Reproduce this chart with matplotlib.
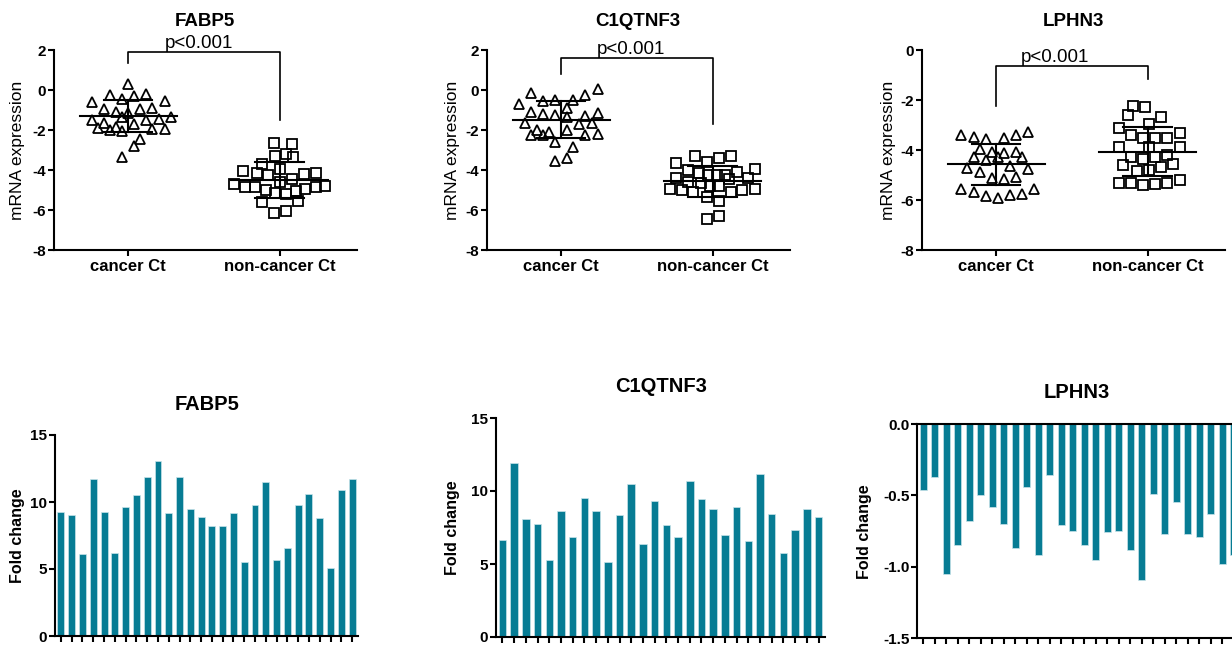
import numpy as np
import matplotlib
matplotlib.use("Agg")
import matplotlib.pyplot as plt

plt.rcParams['font.family'] = ['Liberation Sans', 'DejaVu Sans']
plt.rcParams['axes.unicode_minus'] = False

W, H = 1232, 646

genes = ['FABP5', 'C1QTNF3', 'LPHN3']
groups = ['cancer Ct', 'non-cancer Ct']

# ---- top row: scatter dot plots (value, horizontal spread) ----
fabp5_cancer = [0.30, -0.25, -0.45, -0.29, -0.22, -0.62, -0.54, -0.95, -1.09, -1.13,
                -0.95, -0.89, -1.37, -1.50, -1.67, -1.72, -1.50, -1.43, -1.37, -1.92,
                -2.00, -1.83, -2.03, -1.97, -1.97, -2.47, -2.80, -3.37]
fabp5_cancer_dx = [0, -0.12, -0.04, 0.04, 0.12, -0.24, 0.24, -0.16, -0.08, 0,
                   0.08, 0.16, -0.04, -0.24, -0.16, 0.04, 0.12, 0.20, 0.28, -0.20,
                   -0.12, -0.08, -0.04, 0.16, 0.24, 0.08, 0.04, -0.04]
fabp5_normal = [-2.67, -2.70, -3.28, -3.22, -3.37, -3.72, -3.97, -4.05, -4.17, -4.25,
                -4.58, -4.47, -4.22, -4.17, -4.72, -4.83, -4.87, -5.00, -5.13, -5.20,
                -5.07, -4.93, -4.83, -4.78, -5.58, -5.53, -6.15, -6.03]
fabp5_normal_dx = [-0.04, 0.08, -0.03, 0.04, 0.09, -0.12, 0.0, -0.24, -0.15, -0.08,
                   0.0, 0.08, 0.16, 0.24, -0.30, -0.23, -0.16, -0.09, -0.03, 0.04,
                   0.11, 0.17, 0.24, 0.30, -0.12, 0.12, -0.04, 0.04]

c1q_cancer = [-0.13, 0.05, -0.72, -0.53, -0.50, -0.50, -0.23, -0.92, -1.12, -1.22,
              -1.25, -1.33, -1.30, -1.17, -1.67, -1.72, -1.67, -2.25, -2.00, -2.25,
              -2.08, -2.00, -2.27, -2.20, -2.60, -2.83, -3.53, -3.38]
c1q_cancer_dx = [-0.20, 0.24, -0.28, -0.12, -0.04, 0.08, 0.16, 0.04, -0.20, -0.12,
                 -0.04, 0.04, 0.16, 0.24, -0.24, 0.12, 0.20, -0.20, -0.16, -0.12,
                 -0.08, 0.04, 0.16, 0.24, -0.04, 0.08, -0.04, 0.04]
c1q_normal = [-3.67, -3.28, -3.58, -3.38, -3.30, -4.00, -4.13, -4.25, -4.25, -4.25,
              -4.08, -3.95, -4.42, -4.58, -4.63, -4.80, -4.80, -4.47, -4.38, -4.97,
              -5.00, -5.08, -5.33, -5.08, -5.00, -4.95, -5.55, -6.47, -6.28]
c1q_normal_dx = [-0.24, -0.12, -0.04, 0.04, 0.12, -0.16, -0.09, -0.03, 0.03, 0.08,
                 0.16, 0.28, -0.24, -0.16, -0.08, -0.02, 0.04, 0.11, 0.23, -0.28,
                 -0.20, -0.13, -0.04, 0.12, 0.19, 0.28, 0.04, -0.04, 0.04]

lphn3_cancer = [-3.40, -3.49, -3.57, -3.53, -3.40, -3.29, -3.96, -4.07, -4.11, -4.07,
                -4.29, -4.40, -4.27, -4.29, -4.73, -4.87, -4.63, -4.76, -5.11, -5.16,
                -5.07, -5.56, -5.69, -5.84, -5.91, -5.80, -5.76, -5.56]
lphn3_cancer_dx = [-0.23, -0.15, -0.07, 0.05, 0.13, 0.21, -0.11, -0.03, 0.05, 0.13,
                   -0.15, -0.07, 0.01, 0.17, -0.19, -0.11, 0.09, 0.21, -0.03, 0.05,
                   0.13, -0.23, -0.15, -0.07, 0.01, 0.09, 0.17, 0.25]
lphn3_normal = [-2.24, -2.29, -2.60, -2.69, -2.96, -3.11, -3.33, -3.40, -3.53, -3.53,
                -3.53, -3.89, -3.87, -3.89, -4.27, -4.37, -4.27, -4.20, -4.60, -4.83,
                -4.80, -4.67, -4.57, -5.31, -5.33, -5.40, -5.36, -5.31, -5.20]
lphn3_normal_dx = [-0.10, -0.02, -0.13, 0.09, 0.01, -0.19, 0.21, -0.11, -0.03, 0.05,
                   0.13, -0.19, 0.01, 0.21, -0.11, -0.03, 0.05, 0.13, -0.16, -0.07,
                   0.01, 0.09, 0.17, -0.19, -0.11, -0.03, 0.05, 0.13, 0.21]

means = {'FABP5': [-1.30, -4.52], 'C1QTNF3': [-1.48, -4.56], 'LPHN3': [-4.57, -4.06]}
sds = {'FABP5': [0.82, 0.90], 'C1QTNF3': [0.94, 0.78], 'LPHN3': [0.82, 0.98]}

# bracket: top, left leg end, right leg end; p text x position
brackets = {'FABP5': (1.88, 1.33, -1.50), 'C1QTNF3': (1.58, 0.80, -1.70),
            'LPHN3': (-0.64, -2.24, -1.16)}
p_text_x = {'FABP5': 0.47, 'C1QTNF3': 0.46, 'LPHN3': 0.39}

# ---- bottom row: fold change per sample ----
fabp5_fold = [9.23, 9.01, 6.11, 11.73, 9.23, 6.16, 9.63, 10.51, 11.85, 13.08,
              9.16, 11.85, 9.51, 8.88, 8.21, 8.21, 9.16, 5.54, 9.81, 11.48,
              5.69, 6.54, 9.76, 10.58, 8.83, 5.07, 10.88, 11.73]
c1q_fold = [6.61, 11.94, 8.07, 7.75, 5.29, 8.66, 6.84, 9.55, 8.66, 5.17,
            8.34, 10.51, 6.34, 9.32, 7.70, 6.88, 10.69, 9.46, 8.75, 7.02,
            8.89, 6.56, 11.15, 8.41, 5.72, 7.32, 8.80, 8.23]
lphn3_fold = [-0.46, -0.37, -1.05, -0.85, -0.68, -0.50, -0.58, -0.70, -0.87, -0.44,
              -0.92, -0.36, -0.71, -0.75, -0.85, -0.95, -0.76, -0.75, -0.88, -1.09,
              -0.49, -0.77, -0.55, -0.77, -0.79, -0.63, -0.98, -0.92]

scatter = {
    'FABP5': [(fabp5_cancer, fabp5_cancer_dx), (fabp5_normal, fabp5_normal_dx)],
    'C1QTNF3': [(c1q_cancer, c1q_cancer_dx), (c1q_normal, c1q_normal_dx)],
    'LPHN3': [(lphn3_cancer, lphn3_cancer_dx), (lphn3_normal, lphn3_normal_dx)],
}
folds = {'FABP5': fabp5_fold, 'C1QTNF3': c1q_fold, 'LPHN3': lphn3_fold}

BAR = '#077c94'


def px_rect(l, t, r, b):
    return [l / W, 1 - b / H, (r - l) / W, (b - t) / H]


def style_axes(ax, size):
    for s in ['top', 'right']:
        ax.spines[s].set_visible(False)
    for s in ['left', 'bottom']:
        ax.spines[s].set_linewidth(1.5)
    ax.tick_params(width=1.5, length=4, pad=1.5, labelsize=size)
    for lab in ax.get_yticklabels():
        lab.set_fontweight('bold')


fig = plt.figure(figsize=(W / 100, H / 100), dpi=100)

top_rects = [(54, 50, 357, 250), (487, 50, 790, 250), (922, 50, 1225, 250)]
top_titles = [(205, 21), (638, 21), (1073, 21)]
top_ylab = [18, 453, 888]
top_ylim = {'FABP5': (-8, 2), 'C1QTNF3': (-8, 2), 'LPHN3': (-8, 0)}

for g, rect, tpos, ylx in zip(genes, top_rects, top_titles, top_ylab):
    ax = fig.add_axes(px_rect(*rect))
    markers = ['^', 's']
    for i, (vals, dx) in enumerate(scatter[g]):
        x = i + np.array(dx)
        ax.plot(x, vals, linestyle='none', marker=markers[i],
                ms=7 if i == 0 else 6.5, mfc='none', mec='black', mew=1.3)
        m, s = means[g][i], sds[g][i]
        ax.plot([i - 0.32, i + 0.32], [m, m], color='black', lw=1.5)
        ax.plot([i, i], [m - s, m + s], color='black', lw=1.5)
        ax.plot([i - 0.16, i + 0.16], [m + s, m + s], color='black', lw=1.5)
        ax.plot([i - 0.16, i + 0.16], [m - s, m - s], color='black', lw=1.5)
    top, l_end, r_end = brackets[g]
    ax.plot([0, 0, 1, 1], [l_end, top, top, r_end], color='black', lw=1.2,
            clip_on=False)
    ax.annotate('p<0.001', (p_text_x[g], top), xytext=(0, 3),
                textcoords='offset points', ha='center', va='baseline',
                fontsize=13.5, annotation_clip=False)
    ax.set_xlim(-0.49, 1.51)
    ax.set_ylim(*top_ylim[g])
    ax.set_yticks(np.arange(top_ylim[g][0], top_ylim[g][1] + 1, 2))
    ax.set_xticks([0, 1])
    ax.set_xticklabels(groups, fontsize=12, fontweight='bold')
    style_axes(ax, 11)
    ax.tick_params(axis='x', pad=2.5, labelsize=12)
    fig.text(tpos[0] / W, 1 - tpos[1] / H, g, ha='center', va='center',
             fontsize=13.5, fontweight='bold')
    fig.text(ylx / W, 1 - 150 / H, 'mRNA expression', rotation=90,
             ha='center', va='center', fontsize=12.5)

bot_rects = [(55, 435, 358, 636), (496, 418, 825, 637), (917, 424, 1240, 638)]
bot_titles = [(207, 405), (661, 386), (1077, 392)]
bot_ylab = [(17.5, 536), (453, 528), (865, 532)]

for g, rect, tpos, ylp in zip(genes, bot_rects, bot_titles, bot_ylab):
    ax = fig.add_axes(px_rect(*rect))
    vals = folds[g]
    x = np.arange(len(vals))
    ax.bar(x, vals, width=0.64, color=BAR, edgecolor='#c8e3ea', linewidth=0.5)
    ax.set_xlim(-0.55, len(vals) - 0.45)
    ax.set_xticks(x)
    ax.set_xticklabels([])
    if g == 'LPHN3':
        ax.set_ylim(-1.5, 0)
        ax.set_yticks([-1.5, -1.0, -0.5, 0.0])
        ax.set_yticklabels(['-1.5', '-1.0', '-0.5', '0.0'])
    else:
        ax.set_ylim(0, 15)
        ax.set_yticks([0, 5, 10, 15])
    style_axes(ax, 11)
    if g == 'LPHN3':
        ax.spines['top'].set_visible(True)
        ax.spines['top'].set_linewidth(1.5)
    fig.text(tpos[0] / W, 1 - tpos[1] / H, g, ha='center', va='center',
             fontsize=14.5, fontweight='bold')
    fig.text(ylp[0] / W, 1 - ylp[1] / H, 'Fold change', rotation=90,
             ha='center', va='center', fontsize=11.5, fontweight='bold')

fig.savefig('out.png', dpi=100)
